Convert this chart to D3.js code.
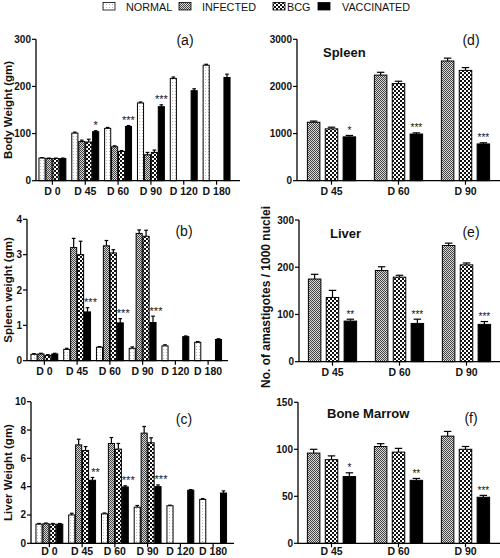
<!DOCTYPE html>
<html><head><meta charset="utf-8">
<script src="https://cdn.jsdelivr.net/npm/d3@7"></script>
<style>body{margin:0;background:#fff}svg{display:block}text{font-family:"Liberation Sans",Arial,sans-serif}</style>
</head><body><svg id="c" width="500" height="558"></svg>
<script>
// ---------- data ----------
const seriesNames = ["NORMAL", "INFECTED", "BCG", "VACCINATED"];
const daysLeft = ["D 0", "D 45", "D 60", "D 90", "D 120", "D 180"];
const daysRight = ["D 45", "D 60", "D 90"];

// (a) Body weight (gm)
const bodyNormal = [48, 101, 111, 165, 217, 245];
const bodyInfected = [47, 83, 72, 55, null, null];
const bodyBCG = [47, 82, 62, 60, null, null];
const bodyVacc = [47, 104, 115, 157, 191, 219];
const bodyNormalErr = [1, 2, 2, 2, 3, 2];
const bodyInfectedErr = [1, 3, 2, 5, null, null];
const bodyBCGErr = [1, 6, 2, 5, null, null];
const bodyVaccErr = [1, 2, 2, 4, 4, 7];
const bodyStars = ["", "*", "***", "***", "", ""];

// (b) Spleen weight (gm)
const splNormal = [0.18, 0.32, 0.38, 0.35, 0.42, 0.52];
const splInfected = [0.19, 3.2, 3.25, 3.6, null, null];
const splBCG = [0.15, 3.0, 3.05, 3.52, null, null];
const splVacc = [0.19, 1.38, 1.07, 1.08, 0.68, 0.6];
const splNormalErr = [0.02, 0.03, 0.02, 0.04, 0.03, 0.02];
const splInfectedErr = [0.02, 0.26, 0.15, 0.1, null, null];
const splBCGErr = [0.02, 0.38, 0.09, 0.17, null, null];
const splVaccErr = [0.02, 0.12, 0.12, 0.18, 0.02, 0.02];
const splStars = ["", "***", "***", "***", "", ""];

// (c) Liver weight (gm)
const livNormal = [1.35, 2.0, 2.08, 2.55, 2.65, 3.1];
const livInfected = [1.38, 6.95, 7.05, 7.78, null, null];
const livBCG = [1.35, 6.55, 6.65, 7.1, null, null];
const livVacc = [1.35, 4.45, 3.98, 4.0, 3.75, 3.55];
const livNormalErr = [0.05, 0.12, 0.06, 0.12, 0.04, 0.06];
const livInfectedErr = [0.05, 0.4, 0.42, 0.47, null, null];
const livBCGErr = [0.05, 0.28, 0.4, 0.35, null, null];
const livVaccErr = [0.05, 0.2, 0.08, 0.12, 0.04, 0.15];
const livStars = ["", "**", "***", "***", "", ""];

// (d) Spleen amastigotes
const dInfected = [1240, 2240, 2540];
const dBCG = [1100, 2060, 2340];
const dVacc = [930, 990, 780];
const dInfectedErr = [25, 60, 60];
const dBCGErr = [35, 50, 60];
const dVaccErr = [30, 25, 25];
const dStars = ["*", "***", "***"];

// (e) Liver amastigotes
const eInfected = [175, 193, 246];
const eBCG = [136, 179, 205];
const eVacc = [86, 81, 79];
const eInfectedErr = [10, 8, 5];
const eBCGErr = [15, 4, 4];
const eVaccErr = [4, 9, 6];
const eStars = ["**", "***", "***"];

// (f) Bone marrow amastigotes
const fInfected = [96, 103, 114];
const fBCG = [89, 97, 100];
const fVacc = [71, 67, 49];
const fInfectedErr = [4, 3, 5];
const fBCGErr = [4, 4, 3];
const fVaccErr = [4, 2, 2];
const fStars = ["*", "**", "***"];

const ticksA = [0, 100, 200, 300];
const ticksB = [0, 1, 2, 3, 4];
const ticksC = [0, 2, 4, 6, 8, 10];
const ticksD = [0, 1000, 2000, 3000];
const ticksE = [0, 100, 200, 300];
const ticksF = [0, 50, 100, 150];

// ---------- drawing ----------
const svg = d3.select("#c");
const defs = svg.append("defs");
const fills = {NORMAL: "url(#pNormal)", INFECTED: "url(#pInf)", BCG: "url(#pBCG)", VACCINATED: "#000"};

// patterns
let p = defs.append("pattern").attr("id", "pNormal").attr("patternUnits", "userSpaceOnUse").attr("width", 3).attr("height", 3);
p.append("rect").attr("width", 3).attr("height", 3).attr("fill", "#fff");
p.append("rect").attr("x", 1).attr("y", 1).attr("width", 1).attr("height", 1).attr("fill", "#bbb");
p = defs.append("pattern").attr("id", "pInf").attr("patternUnits", "userSpaceOnUse").attr("width", 2).attr("height", 2);
p.append("rect").attr("width", 2).attr("height", 2).attr("fill", "#d8d8d8");
p.append("rect").attr("width", 1).attr("height", 1).attr("fill", "#444");
p.append("rect").attr("x", 1).attr("y", 1).attr("width", 1).attr("height", 1).attr("fill", "#444");
p = defs.append("pattern").attr("id", "pBCG").attr("patternUnits", "userSpaceOnUse").attr("width", 4).attr("height", 4);
p.append("rect").attr("width", 4).attr("height", 4).attr("fill", "#fff");
p.append("rect").attr("width", 2).attr("height", 2).attr("fill", "#111");
p.append("rect").attr("x", 2).attr("y", 2).attr("width", 2).attr("height", 2).attr("fill", "#111");

// legend
const legendX = [103, 179, 273, 318];
const legendTX = [126, 202, 287, 342];
seriesNames.forEach((s, i) => {
  svg.append("rect").attr("x", legendX[i]).attr("y", 2.5).attr("width", 12).attr("height", 7.5)
    .attr("fill", fills[s]).attr("stroke", "#000").attr("stroke-width", 0.8);
  svg.append("text").attr("x", legendTX[i]).attr("y", 10.5).attr("font-size", 10.8).attr("fill", "#111").text(s);
});

function panel(o) {
  const g = svg.append("g");
  const y = d3.scaleLinear().domain(o.domain).range([o.y0, o.y1]);
  const x = d3.scaleBand().domain(o.groups).range(o.xr).paddingInner(o.pin).paddingOuter(o.pin / 2);
  const xi = d3.scaleBand().domain(o.series.map(s => s.name)).range([0, x.bandwidth()]).paddingInner(o.pbar);
  o.series.forEach(s => {
    o.groups.forEach((gr, j) => {
      const v = s.values[j];
      if (v == null) return;
      const bx = x(gr) + xi(s.name), bw = xi.bandwidth();
      const e = s.err[j] || 0;
      const cx = bx + bw / 2;
      if (e > 0) {
        g.append("line").attr("x1", cx).attr("x2", cx).attr("y1", y(v)).attr("y2", y(v + e)).attr("stroke", "#000").attr("stroke-width", 1.2);
        g.append("line").attr("x1", cx - bw * 0.3).attr("x2", cx + bw * 0.3).attr("y1", y(v + e)).attr("y2", y(v + e)).attr("stroke", "#000").attr("stroke-width", 1.2);
      }
      g.append("rect").attr("x", bx).attr("y", y(v)).attr("width", bw).attr("height", y(0) - y(v))
        .attr("fill", fills[s.name]).attr("stroke", "#000").attr("stroke-width", 1);
      if (s.stars && s.stars[j]) {
        g.append("text").attr("x", cx + (o.starDx || 0)).attr("y", y(v + e) - 1.5).attr("text-anchor", "middle")
          .attr("font-size", o.starSize || 11).attr("fill", "#111").text(s.stars[j]);
      }
    });
  });
  // y axis
  g.append("line").attr("x1", o.ax).attr("x2", o.ax).attr("y1", o.y0).attr("y2", o.y1).attr("stroke", "#000").attr("stroke-width", 1.3);
  o.ticks.forEach(t => {
    g.append("line").attr("x1", o.ax - 4).attr("x2", o.ax).attr("y1", y(t)).attr("y2", y(t)).attr("stroke", "#000").attr("stroke-width", 1.2);
    g.append("text").attr("x", o.ax - 5).attr("y", y(t) + 3.5).attr("text-anchor", "end").attr("font-size", 10)
      .attr("font-weight", "bold").attr("fill", "#111").text(t);
  });
  // x axis
  g.append("line").attr("x1", o.ax).attr("x2", o.axEnd).attr("y1", o.y0).attr("y2", o.y0).attr("stroke", "#000").attr("stroke-width", 1.3);
  o.groups.forEach(gr => {
    const cx = x(gr) + x.bandwidth() / 2;
    g.append("line").attr("x1", cx).attr("x2", cx).attr("y1", o.y0).attr("y2", o.y0 + 4).attr("stroke", "#000").attr("stroke-width", 1.2);
    g.append("text").attr("x", cx).attr("y", o.y0 + (o.xlDy || 14)).attr("text-anchor", "middle").attr("font-size", 10.5)
      .attr("font-weight", "bold").attr("fill", "#111").text(gr);
  });
  // panel letter
  g.append("text").attr("x", o.lx).attr("y", o.ly).attr("text-anchor", "middle").attr("font-size", 14).attr("fill", "#111").text(o.letter);
  if (o.title) g.append("text").attr("x", o.tx).attr("y", o.ty).attr("font-size", 13).attr("font-weight", "bold").attr("fill", "#111").text(o.title);
  if (o.ylabel) g.append("text").attr("transform", `translate(${o.ylx},${(o.y0 + o.y1) / 2}) rotate(-90)`).attr("text-anchor", "middle")
    .attr("font-size", 11.5).attr("font-weight", "bold").attr("fill", "#111").text(o.ylabel);
}

function leftSeries(n, inf, bcg, vac, ne, ie, be, ve, st) {
  return [
    {name: "NORMAL", values: n, err: ne},
    {name: "INFECTED", values: inf, err: ie},
    {name: "BCG", values: bcg, err: be},
    {name: "VACCINATED", values: vac, err: ve, stars: st}
  ];
}
function rightSeries(inf, bcg, vac, ie, be, ve, st) {
  return [
    {name: "INFECTED", values: inf, err: ie},
    {name: "BCG", values: bcg, err: be},
    {name: "VACCINATED", values: vac, err: ve, stars: st}
  ];
}

panel({groups: daysLeft, domain: [0, 300], y0: 180.7, y1: 39.3, xr: [36, 233], pin: 0.18, pbar: 0.12, ax: 36, axEnd: 240,
  ticks: ticksA, series: leftSeries(bodyNormal, bodyInfected, bodyBCG, bodyVacc, bodyNormalErr, bodyInfectedErr, bodyBCGErr, bodyVaccErr, bodyStars),
  letter: "(a)", lx: 185, ly: 45, ylabel: "Body Weight (gm)", ylx: 12});
panel({groups: daysLeft, domain: [0, 4], y0: 360.7, y1: 219.3, xr: [28, 224.5], pin: 0.18, pbar: 0.12, ax: 27, axEnd: 228,
  ticks: ticksB, series: leftSeries(splNormal, splInfected, splBCG, splVacc, splNormalErr, splInfectedErr, splBCGErr, splVaccErr, splStars),
  letter: "(b)", lx: 184, ly: 236, ylabel: "Spleen weight (gm)", ylx: 12, starDx: 3});
panel({groups: daysLeft, domain: [0, 10], y0: 543.3, y1: 401.7, xr: [33, 229.5], pin: 0.18, pbar: 0.12, ax: 31, axEnd: 234,
  ticks: ticksC, series: leftSeries(livNormal, livInfected, livBCG, livVacc, livNormalErr, livInfectedErr, livBCGErr, livVaccErr, livStars),
  letter: "(c)", lx: 184, ly: 424, ylabel: "Liver Weight (gm)", ylx: 12, starDx: 3, xlDy: 12});

panel({groups: daysRight, domain: [0, 3000], y0: 180.7, y1: 39.3, xr: [298, 499], pin: 0.28, pbar: 0.3, ax: 297, axEnd: 500,
  ticks: ticksD, series: rightSeries(dInfected, dBCG, dVacc, dInfectedErr, dBCGErr, dVaccErr, dStars),
  letter: "(d)", lx: 471, ly: 45, title: "Spleen", tx: 323, ty: 57, starSize: 10});
panel({groups: daysRight, domain: [0, 300], y0: 361.7, y1: 220, xr: [299, 500], pin: 0.28, pbar: 0.3, ax: 299, axEnd: 500,
  ticks: ticksE, series: rightSeries(eInfected, eBCG, eVacc, eInfectedErr, eBCGErr, eVaccErr, eStars),
  letter: "(e)", lx: 471, ly: 237, title: "Liver", tx: 330, ty: 238, starSize: 10});
panel({groups: daysRight, domain: [0, 150], y0: 543.3, y1: 402.3, xr: [298, 499], pin: 0.28, pbar: 0.3, ax: 298, axEnd: 500,
  ticks: ticksF, series: rightSeries(fInfected, fBCG, fVacc, fInfectedErr, fBCGErr, fVaccErr, fStars),
  letter: "(f)", lx: 471, ly: 423, title: "Bone Marrow", tx: 327, ty: 418, starSize: 10, xlDy: 12});

svg.append("text").attr("transform", "translate(270,297) rotate(-90)").attr("text-anchor", "middle")
  .attr("font-size", 12).attr("font-weight", "bold").attr("fill", "#111").text("No. of amastigotes / 1000 nuclei");
</script></body></html>
